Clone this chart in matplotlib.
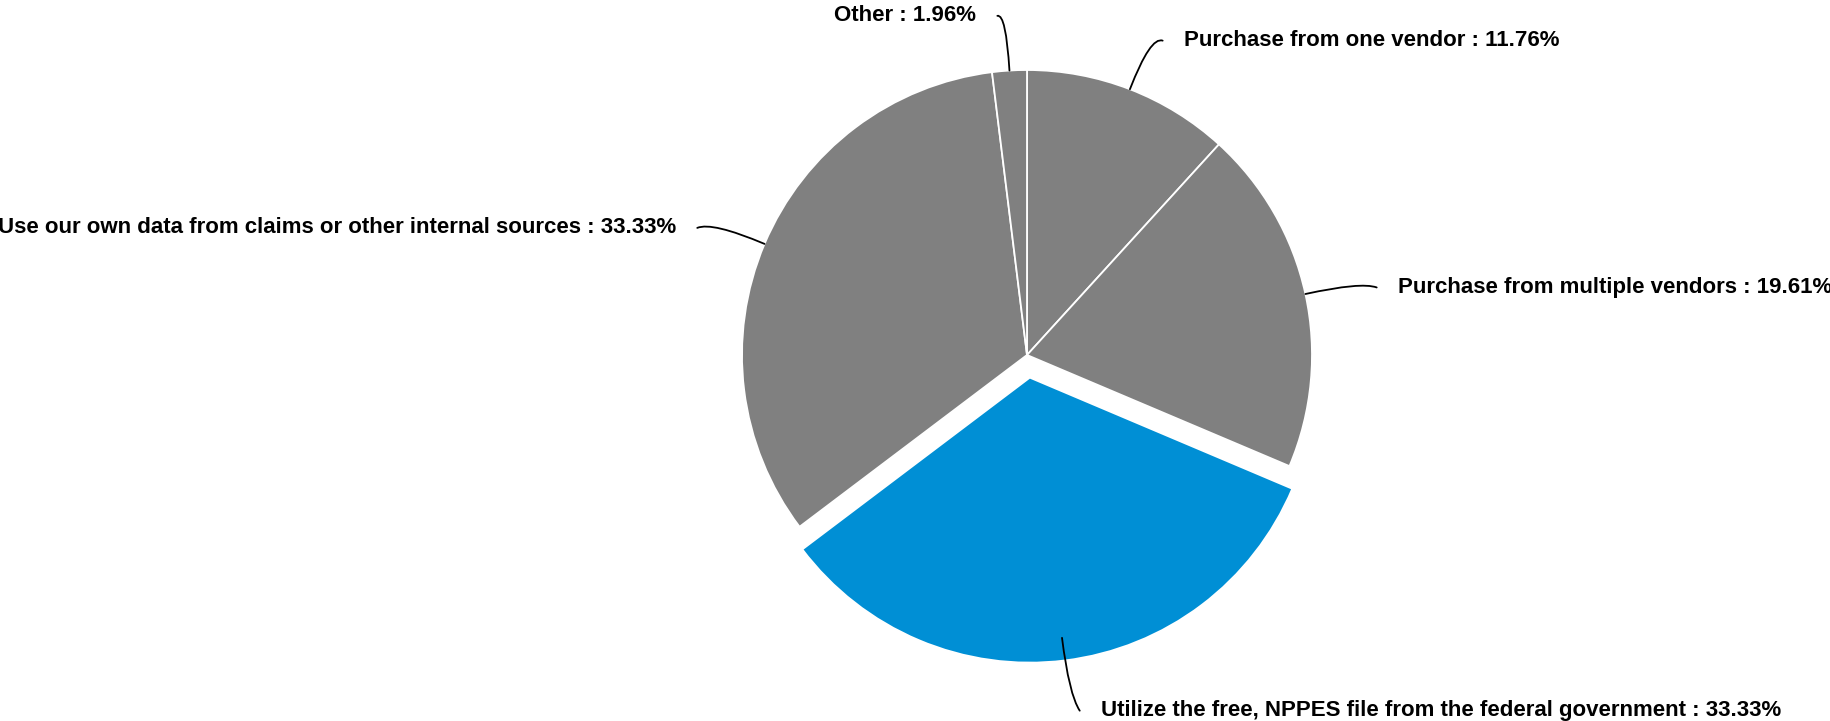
import numpy as np
import matplotlib
matplotlib.use("Agg")
import matplotlib.pyplot as plt
from matplotlib.path import Path
from matplotlib.patches import PathPatch

# data, clockwise from 12 o'clock
categories = [
    "Purchase from one vendor",
    "Purchase from multiple vendors",
    "Utilize the free, NPPES file from the federal government",
    "Use our own data from claims or other internal sources",
    "Other",
]
shares = [11.76, 19.61, 33.33, 33.33, 1.96]

GRAY, BLUE = "#808080", "#008fd5"
colors = [GRAY, GRAY, BLUE, GRAY, GRAY]
explode = [0, 0, 0.08, 0, 0]

# label anchors (pie-radius units, centre at 0,0) and alignment
label_xy = [(0.551, 1.103), (1.302, 0.237), (0.260, -1.248), (-1.232, 0.446), (-0.179, 1.19)]
label_ha = ["left", "left", "left", "right", "right"]

W, H, DPI = 1831, 721, 100
CX, CY, R = 1027, 355, 285          # pie centre / radius in pixels

fig = plt.figure(figsize=(W / DPI, H / DPI), dpi=DPI)
ax = fig.add_axes([0, 0, 1, 1])
wedges, _ = ax.pie(shares, colors=colors, explode=explode, startangle=90,
                   counterclock=False, radius=1.0,
                   wedgeprops=dict(edgecolor="white", linewidth=1.3))

total = sum(shares)
start = 90.0
for i, (cat, v) in enumerate(zip(categories, shares)):
    mid = np.radians(start - 0.5 * v / total * 360)
    start -= v / total * 360
    p0 = (np.cos(mid), np.sin(mid))
    p1 = (1.2 * np.cos(mid), 1.2 * np.sin(mid))
    tx, ty = label_xy[i]
    sgn = 1 if label_ha[i] == "left" else -1
    p2 = (tx - sgn * 0.075, ty)
    path = Path([p0, p1, p2], [Path.MOVETO, Path.CURVE3, Path.CURVE3])
    ax.add_patch(PathPatch(path, fc="none", ec="black", lw=1.3, capstyle="round"))
    ax.text(tx, ty, f"{cat} : {v:.2f}%", ha=label_ha[i], va="center",
            fontsize=16, fontweight="bold", family=["Liberation Sans", "DejaVu Sans"],
            color="black")

ax.set_xlim(-CX / R, (W - CX) / R)
ax.set_ylim(-(H - CY) / R, CY / R)
ax.set_aspect("equal")
ax.axis("off")
fig.savefig("out.png", dpi=DPI, facecolor="white")
